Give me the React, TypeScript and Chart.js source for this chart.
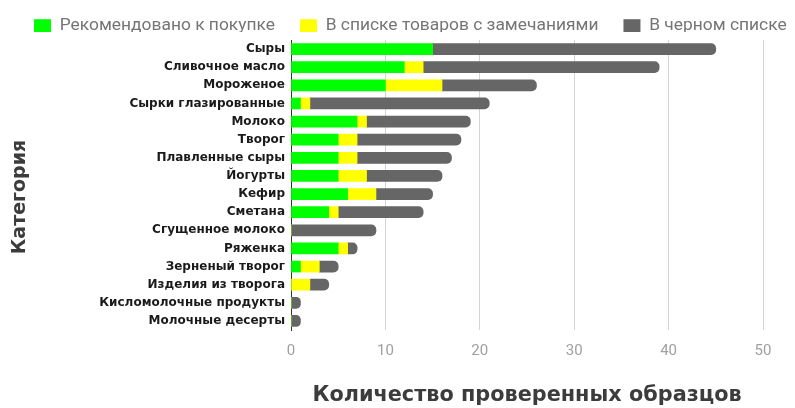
import React, { useEffect, useRef } from "react";
import { Chart, registerables } from "chart.js";

Chart.register(...registerables);

const categories = [
  "Сыры",
  "Сливочное масло",
  "Мороженое",
  "Сырки глазированные",
  "Молоко",
  "Творог",
  "Плавленные сыры",
  "Йогурты",
  "Кефир",
  "Сметана",
  "Сгущенное молоко",
  "Ряженка",
  "Зерненый творог",
  "Изделия из творога",
  "Кисломолочные продукты",
  "Молочные десерты",
];

const recommended = [15, 12, 10, 1, 7, 5, 5, 5, 6, 4, 0, 5, 1, 0, 0, 0];
const withRemarks = [0, 2, 6, 1, 1, 2, 2, 3, 3, 1, 0, 1, 2, 2, 0, 0];
const blacklisted = [30, 25, 10, 19, 11, 11, 10, 8, 6, 9, 9, 1, 2, 2, 1, 1];

const seriesNames = [
  "Рекомендовано к покупке",
  "В списке товаров с замечаниями",
  "В черном списке",
];

const xTicks = [0, 10, 20, 30, 40, 50];

const xTitle = "Количество проверенных образцов";
const yTitle = "Категория";

const layoutPlugin = {
  id: "layoutTweak",
  afterLayout(chart: any) {
    const lg = chart.legend;
    if (lg) {
      const h = lg.bottom - lg.top;
      lg.left = 9;
      lg.right = 2000;
      lg.top = -8;
      lg.bottom = -8 + h;
    }
  },
};

const legendHeightPlugin = {
  id: "legendHeight",
  afterInit(chart: any) {
    const lg = chart.legend;
    if (lg && !lg.__patched) {
      const orig = lg.fit.bind(lg);
      lg.fit = function () {
        const mw = this.maxWidth;
        this.maxWidth = 2000;
        orig();
        this.maxWidth = mw;
        this.width = mw;
        this.height = 40;
      };
      lg.__patched = true;
    }
  },
};

const yTitlePlugin = {
  id: "yTitleDraw",
  afterDraw(chart: any) {
    const ctx = chart.ctx;
    ctx.save();
    ctx.translate(20, 197);
    ctx.rotate(-Math.PI / 2);
    ctx.textAlign = "center";
    ctx.textBaseline = "middle";
    ctx.fillStyle = "#3c3c3c";
    ctx.font = "bold 19px 'DejaVu Sans'";
    ctx.fillText(yTitle, 0, 0);
    ctx.restore();
  },
};

export default function App() {
  const ref = useRef<HTMLCanvasElement | null>(null);

  useEffect(() => {
    if (!ref.current) return;
    const chart = new Chart(ref.current, {
      type: "bar",
      data: {
        labels: categories,
        datasets: [
          {
            label: seriesNames[0],
            data: recommended,
            backgroundColor: "#00ff00",
            barThickness: 11,
          },
          {
            label: seriesNames[1],
            data: withRemarks,
            backgroundColor: "#ffff00",
            barThickness: 11,
          },
          {
            label: seriesNames[2],
            data: blacklisted,
            backgroundColor: "#666666",
            barThickness: 11,
            borderRadius: 5,
            borderSkipped: "start",
          },
        ],
      },
      options: {
        indexAxis: "y",
        animation: false,
        responsive: false,
        maintainAspectRatio: false,
        layout: { padding: { left: 0, right: 32, top: 0, bottom: 0 } },
        plugins: {
          legend: {
            position: "top",
            align: "start",
            labels: {
              boxWidth: 17,
              boxHeight: 13,
              padding: 25,
              color: "#757575",
              font: { family: "Roboto", size: 17.4 },
            },
          },
          tooltip: { enabled: false },
        },
        scales: {
          x: {
            stacked: true,
            min: 0,
            max: 50,
            afterBuildTicks: (scale: any) => {
              scale.ticks = xTicks.map((v) => ({ value: v }));
            },
            afterFit: (scale: any) => {
              scale.height = 78;
            },
            grid: { color: "#d3d3d3", drawTicks: false, lineWidth: 1 },
            border: { display: false },
            ticks: {
              padding: 12,
              color: "#a0a0a0",
              font: { family: "Roboto", size: 15 },
            },
            title: {
              display: true,
              text: xTitle,
              color: "#3c3c3c",
              font: { family: "DejaVu Sans", size: 20.8, weight: "bold" },
              padding: { top: 0, bottom: 0 },
            },
          },
          y: {
            stacked: true,
            afterFit: (scale: any) => {
              scale.width = 291;
            },
            grid: { display: false, drawTicks: false },
            border: { display: true, color: "#333333", width: 1 },
            ticks: {
              padding: 6,
              color: "#1a1a1a",
              autoSkip: false,
              font: { family: "DejaVu Sans", size: 12, weight: "bold" },
            },
            title: { display: false },
          },
        },
      },
      plugins: [layoutPlugin, legendHeightPlugin, yTitlePlugin],
    } as any);
    chart.update();
    return () => chart.destroy();
  }, []);

  return (
    <div style={{ position: "fixed", left: 0, top: 0, width: 795, height: 408, background: "#fff" }}>
      <canvas ref={ref} width={795} height={408} style={{ width: 795, height: 408 }} />
    </div>
  );
}
